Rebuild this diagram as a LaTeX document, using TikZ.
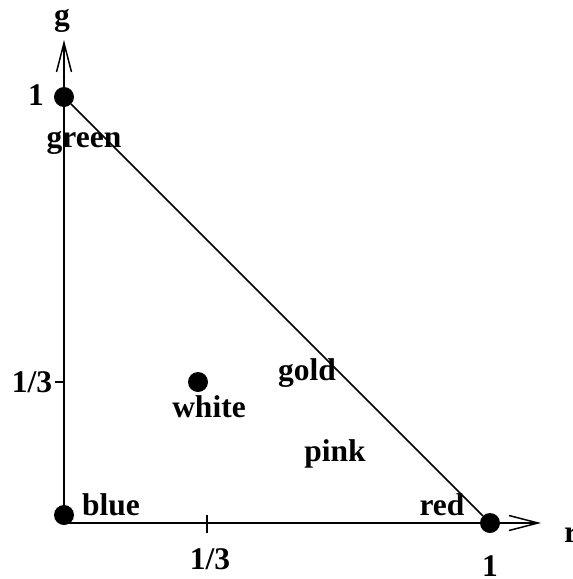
\documentclass[tikz,border=0pt]{standalone}
\usepackage{fontspec}
\setmainfont{Liberation Serif}
\usetikzlibrary{arrows.meta}

\begin{document}
\begin{tikzpicture}[x=1pt, y=-1pt,
            pt/.style={circle, fill=black, minimum size=20pt, inner sep=0pt},
            lbl/.style={anchor=base, inner sep=0pt, font=\fontsize{31.5}{33}\selectfont\bfseries},
            ax/.style={line width=1.5pt, -{Straight Barb[length=29pt, width=15pt, line width=1.5pt]}},
            ln/.style={line width=1.5pt}]
            \useasboundingbox (0,0) rectangle (573,579);
            % corners of the triangle
            \node[pt] (G) at (64,97)   {};
            \node[pt] (R) at (490,523) {};
            \node[pt] (B) at (64,515)  {};
            \node[pt] (W) at (198,382) {};
            \coordinate (O) at (64,523);
            \coordinate (gtip) at (64,40);
            \coordinate (rtip) at (541,523);
            \coordinate (tx) at (207,523);
            \coordinate (ty) at (64,382);
            % axes and edge
            \draw[ax] (O) -- (gtip);
            \draw[ax] (O) -- (rtip);
            \draw[ln] (G) -- (R);
            \draw[ln] (tx) ++(0,-8) -- ++(0,18);
            \draw[ln] (ty) -- ++(-9,0);
            % labels
            \node[lbl] (lg)  at (62,25)   {g};
            \node[lbl] (lr)  at (571,542) {r};
            \node[lbl] (lg1) at (36,105)  {1};
            \node[lbl] (lr1) at (490,576) {1};
            \node[lbl] (ly3) at (32,392)  {1/3};
            \node[lbl] (lx3) at (210,569) {1/3};
            \node[lbl] (lgreen) at (84,147) {green};
            \node[lbl] (lwhite) at (209,417) {white};
            \node[lbl] (lblue)  at (111,515) {blue};
            \node[lbl] (lred)   at (442,515) {red};
            \node[lbl] (lgold)  at (307,380) {gold};
            \node[lbl] (lpink)  at (335,461) {pink};
        \end{tikzpicture}
\end{document}
